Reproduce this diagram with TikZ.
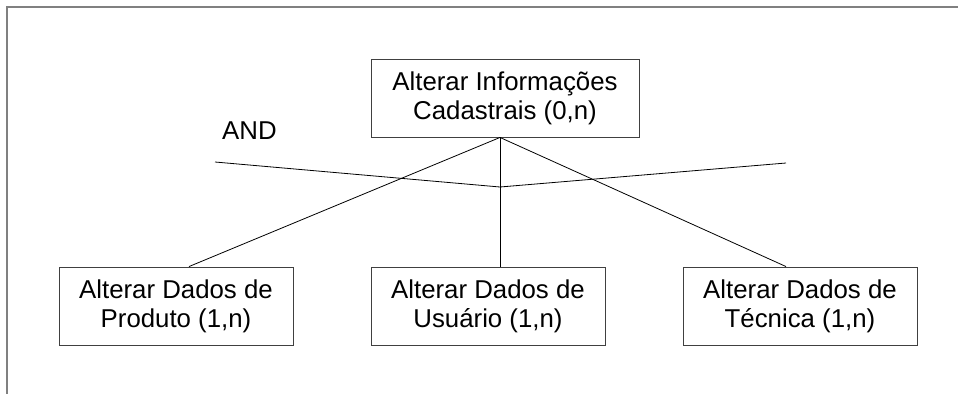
\documentclass[tikz,border=0pt]{standalone}
\usepackage{fontspec}
\setmainfont{Liberation Sans}
\usepackage{xcolor}
\usepackage{tikz}
\usetikzlibrary{positioning,calc}

\begin{document}
\begin{tikzpicture}[
    x=1pt, y=-1pt,
    box/.style={draw=black!75, line width=0.9pt, minimum height=78pt, minimum width=234pt, inner sep=0pt, align=center, font=\fontsize{25.8}{29}\selectfont},
    link/.style={draw=black, line width=0.8pt}
]
\useasboundingbox (0,0) rectangle (958,394);
\draw[gray, line width=1.6pt] (958,7) -- (7,7) -- (7,394);

\node[box, minimum width=268pt] (info) at (505,98) {Alterar Informações\\Cadastrais (0,n)};
\node[box] (prod) at (176,306) {Alterar Dados de\\Produto (1,n)};
\node[box] (usu) at (488,306) {Alterar Dados de\\Usuário (1,n)};
\node[box] (tec) at (800,306) {Alterar Dados de\\Técnica (1,n)};

\node[font=\fontsize{25.8}{29}\selectfont, anchor=base west, inner sep=0pt] (and) at (222,139) {AND};

\coordinate (apex) at ([xshift=-5pt]info.south);
\coordinate (andl) at (215,162);
\coordinate (andm) at (500,187);
\coordinate (andr) at (786,163);

\draw[link] (apex) -- ([xshift=13pt]prod.north);
\draw[link] (apex) -- ([xshift=12pt]usu.north);
\draw[link] (apex) -- ([xshift=-14pt]tec.north);

\draw[link] (andl) -- (andm) -- (andr);
\end{tikzpicture}
\end{document}
